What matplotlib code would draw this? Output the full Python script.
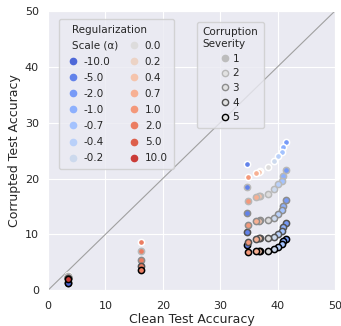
import numpy as np
import matplotlib
matplotlib.use("Agg")
import matplotlib.pyplot as plt
from matplotlib.lines import Line2D
import seaborn as sns

# ========== data ==========
alphas = [-10.0, -5.0, -2.0, -1.0, -0.7, -0.4, -0.2, 0.0, 0.2, 0.4, 0.7, 1.0, 2.0, 5.0, 10.0]
alpha_labels = ["-10.0", "-5.0", "-2.0", "-1.0", "-0.7", "-0.4", "-0.2",
                "0.0", "0.2", "0.4", "0.7", "1.0", "2.0", "5.0", "10.0"]
severities = [1, 2, 3, 4, 5]

# clean test accuracy per alpha
clean_acc = [3.4, 34.6, 41.4, 41.0, 40.7, 40.1, 39.4, 38.3, 37.0, 36.7, 36.3, 34.9, 16.2, 3.4, 3.4]

# corrupted test accuracy per alpha, one list per severity (1..5)
sev1 = [1.6, 22.6, 26.6, 25.6, 24.7, 24.1, 23.1, 22.1, 21.3, 21.2, 21.0, 20.2, 8.7, 2.8, 2.4]
sev2 = [1.5, 18.4, 21.5, 20.5, 19.6, 19.0, 18.1, 17.2, 16.9, 16.8, 16.6, 16.0, 7.1, 2.6, 2.3]
sev3 = [1.4, 13.9, 16.2, 15.1, 14.4, 13.7, 13.0, 12.6, 12.5, 12.4, 12.3, 11.7, 5.4, 2.4, 2.2]
sev4 = [1.3, 10.4, 12.1, 11.4, 10.6, 10.1, 9.6, 9.3, 9.3, 9.3, 9.2, 8.7, 4.3, 2.3, 2.1]
sev5 = [1.2, 8.0, 9.2, 8.8, 8.2, 7.8, 7.4, 7.0, 7.1, 7.1, 7.1, 6.8, 3.6, 2.2, 2.0]
corrupt_acc = [sev1, sev2, sev3, sev4, sev5]

ticks = [0, 10, 20, 30, 40, 50]
# ==========================

sns.set_style("darkgrid")
plt.rcParams['font.family'] = ['DejaVu Sans']

palette = sns.color_palette("coolwarm", len(alphas))
edge_cols = [(1, 1, 1), (0.72, 0.72, 0.72), (0.55, 0.55, 0.55), (0.32, 0.32, 0.32), (0, 0, 0)]

fig = plt.figure(figsize=(3.41, 3.26), dpi=100)
ax = fig.add_axes([0.141, 0.110, 0.841, 0.856])

ax.plot([0, 50], [0, 50], color="#a0a0a0", linewidth=0.8, zorder=1)

for i, a in enumerate(alphas):
    for s in range(len(severities)):
        ax.scatter(clean_acc[i], corrupt_acc[s][i], s=20, color=palette[i],
                   edgecolors=[edge_cols[s]], linewidths=1.1, zorder=3)

ax.set_xlim(0, 50)
ax.set_ylim(0, 50)
ax.set_xticks(ticks)
ax.set_yticks(ticks)
ax.tick_params(axis="x", labelsize=8, pad=4)
ax.tick_params(axis="y", labelsize=8, pad=3)
ax.set_xlabel("Clean Test Accuracy", fontsize=9, labelpad=1.5)
ax.set_ylabel("Corrupted Test Accuracy", fontsize=9, labelpad=3)

# legend 1: regularization scale, two columns, header rows drawn separately
blank = Line2D([], [], linestyle="none", marker="o", markersize=0)
h1, l1 = [blank, blank], [" ", " "]
for i in range(7):
    h1.append(Line2D([], [], linestyle="none", marker="o", markersize=4.5,
                     markerfacecolor=palette[i], markeredgecolor=palette[i]))
    l1.append(alpha_labels[i])
h1.append(blank)
l1.append(" ")
for i in range(7, 15):
    h1.append(Line2D([], [], linestyle="none", marker="o", markersize=4.5,
                     markerfacecolor=palette[i], markeredgecolor=palette[i]))
    l1.append(alpha_labels[i])

leg1 = ax.legend(h1, l1, ncol=2, loc="upper left", bbox_to_anchor=(0.037, 0.973),
                 borderaxespad=0, fontsize=7.5, handlelength=1.6, handletextpad=0.2,
                 columnspacing=1.5, labelspacing=0.58, borderpad=0.6, frameon=True)
ax.add_artist(leg1)

# legend 2: corruption severity
h2 = []
for s in range(len(severities)):
    face = "#bdbdbd" if s == 0 else "#e2e2e2"
    edge = "#bdbdbd" if s == 0 else edge_cols[s]
    h2.append(Line2D([], [], linestyle="none", marker="o", markersize=4.5,
                     markerfacecolor=face, markeredgecolor=edge, markeredgewidth=1.0))
leg2 = ax.legend(h2, [str(s) for s in severities], title="Corruption\nSeverity",
                 loc="upper left", bbox_to_anchor=(0.518, 0.962), borderaxespad=0,
                 fontsize=7.5, title_fontsize=7.5, handlelength=0.8, handletextpad=0.3,
                 labelspacing=0.45, borderpad=0.55)

# header text of legend 1 placed on the blank rows
fig.canvas.draw()
box = leg1.get_window_extent()
W, H = fig.bbox.width, fig.bbox.height
for t, txt in zip(leg1.get_texts()[:2], ["Regularization", "Scale (\u03b1)"]):
    tb = t.get_window_extent()
    fig.text((box.x0 + 13) / W, (tb.y0 + tb.y1) / 2 / H, txt, fontsize=7.5,
             ha="left", va="center", color="#262626", zorder=10)

fig.savefig("out.png", dpi=100)
